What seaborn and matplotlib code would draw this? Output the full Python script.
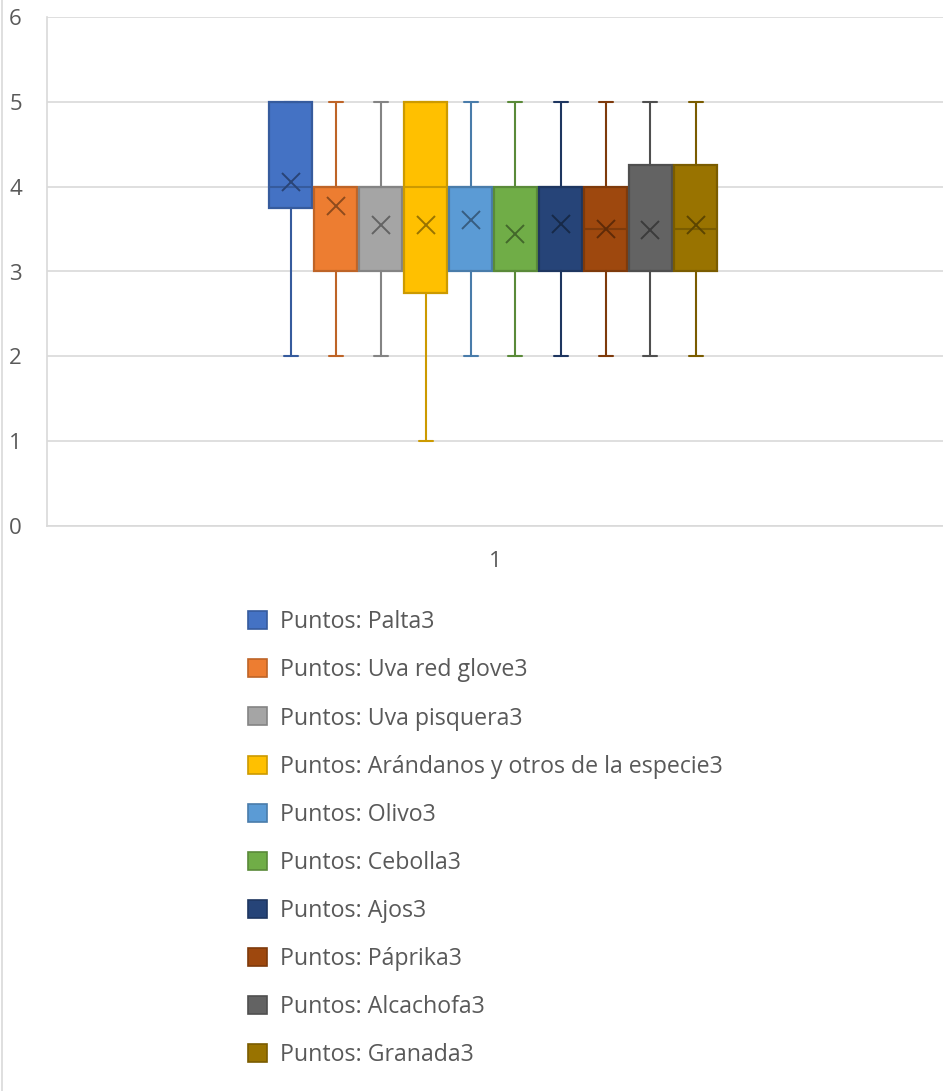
import matplotlib
matplotlib.use("Agg")
import matplotlib.pyplot as plt
import matplotlib.colors as mcolors
from matplotlib.patches import Patch
from matplotlib.lines import Line2D
import seaborn as sns
import numpy as np

# data (one group "1", ten series)
series = ["Puntos: Palta3", "Puntos: Uva red glove3", "Puntos: Uva pisquera3",
          "Puntos: Arándanos y otros de la especie3", "Puntos: Olivo3",
          "Puntos: Cebolla3", "Puntos: Ajos3", "Puntos: Páprika3",
          "Puntos: Alcachofa3", "Puntos: Granada3"]
whisker_lo = [2, 2, 2, 1, 2, 2, 2, 2, 2, 2]
q1 = [3.75, 3, 3, 2.75, 3, 3, 3, 3, 3, 3]
median = [4, 4, 4, 4, 4, 3, 4, 3.5, 3, 3.5]
q3 = [5, 4, 4, 5, 4, 4, 4, 4, 4.25, 4.25]
whisker_hi = [5, 5, 5, 5, 5, 5, 5, 5, 5, 5]
mean = [4.05, 3.77, 3.55, 3.55, 3.61, 3.44, 3.56, 3.5, 3.49, 3.55]
colors = ["#4472C4", "#ED7D31", "#A5A5A5", "#FFC000", "#5B9BD5",
          "#70AD47", "#264478", "#9E480E", "#636363", "#997300"]
group_label = "1"


def darker(c, f=0.75):
    r, g, b = mcolors.to_rgb(c)
    return (r * f, g * f, b * f)


sns.set_theme(style="white")
plt.rcParams['font.family'] = ['Open Sans', 'DejaVu Sans']

fig = plt.figure(figsize=(9.43, 10.91), dpi=100)
ax = fig.add_axes([47 / 943, 1 - 526 / 1091, 896 / 943, 509 / 1091])

px = 1 / 896  # one pixel in data units along x (xlim spans 1 unit)
step = 45 * px
width = 43 * px
positions = [1 - 2 * px + (i - 4.5) * step for i in range(len(series))]

for i in range(len(series)):
    st = [dict(med=median[i], q1=q1[i], q3=q3[i], whislo=whisker_lo[i],
               whishi=whisker_hi[i], mean=mean[i], fliers=[])]
    edge = darker(colors[i], 0.8)
    ax.bxp(st, positions=[positions[i]], widths=width, capwidths=14 * px,
           patch_artist=True, showmeans=True, manage_ticks=False,
           boxprops=dict(facecolor=colors[i], edgecolor=edge, linewidth=1.6),
           medianprops=dict(color=edge, linewidth=1.5),
           whiskerprops=dict(color=edge, linewidth=1.5),
           capprops=dict(color=edge, linewidth=1.5),
           meanprops=dict(marker="x", markersize=13, markeredgewidth=1.4,
                          markeredgecolor=darker(colors[i], 0.6)),
           zorder=3)

ax.set_xlim(0.5, 1.5)
ax.set_ylim(0, 6)
ax.set_yticks(range(0, 7))
ax.set_xticks([1])
ax.set_xticklabels([group_label])
ax.yaxis.grid(True, color="#D9D9D9", linewidth=1.2, zorder=0)
ax.set_axisbelow(True)
for s in ["top", "right"]:
    ax.spines[s].set_visible(False)
ax.spines["left"].set_color("#D9D9D9")
ax.spines["bottom"].set_color("#D9D9D9")
ax.spines["left"].set_linewidth(1.2)
ax.spines["bottom"].set_linewidth(1.2)
ax.tick_params(axis="both", length=0, labelsize=16, labelcolor="#595959")
ax.tick_params(axis="y", pad=18)
ax.tick_params(axis="x", pad=18)

handles = [Patch(facecolor=c, edgecolor=darker(c, 0.8), linewidth=1.2) for c in colors]
fig.legend(handles, series, loc="upper left", bbox_to_anchor=(239 / 943, 1 - 601 / 1091),
           frameon=False, fontsize=16.7, labelcolor="#595959",
           handlelength=0.82, handleheight=0.82, handletextpad=0.56,
           labelspacing=1.04, borderaxespad=0)

fig.add_artist(Line2D([2 / 943, 2 / 943], [0, 1], transform=fig.transFigure,
                      color="#D9D9D9", linewidth=1.2))

fig.savefig("out.png", dpi=100)
